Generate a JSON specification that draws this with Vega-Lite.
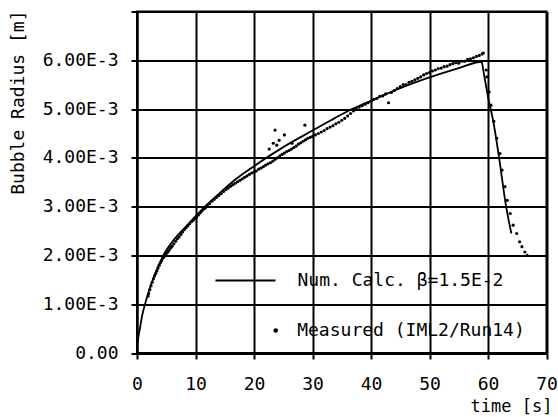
{
  "$schema": "https://vega.github.io/schema/vega-lite/v6.json",
  "width": 409.5,
  "height": 341.5,
  "autosize": {"type": "none"},
  "padding": {"left": 137, "top": 11.5, "right": 11.5, "bottom": 64},
  "background": "white",
  "config": {
    "view": {"stroke": "black", "strokeWidth": 2},
    "font": "DejaVu Sans Mono",
    "axis": {
      "labelFont": "DejaVu Sans Mono", "labelFontSize": 18, "labelColor": "black",
      "titleFont": "DejaVu Sans Mono", "titleFontSize": 18, "titleColor": "black", "titleFontWeight": "normal",
      "domainColor": "black", "domainWidth": 2, "tickColor": "black", "tickWidth": 2, "tickSize": 6,
      "gridColor": "black", "gridWidth": 2, "gridOpacity": 1
    },
    "legend": {
      "labelFont": "DejaVu Sans Mono", "labelFontSize": 18, "labelColor": "black", "labelLimit": 400,
      "padding": 0, "clipHeight": 20
    }
  },
  "datasets": {
    "calc": [
      {"t": 0, "r": 0}, {"t": 0.05, "r": 0.15e-3}, {"t": 0.2, "r": 0.3e-3}, {"t": 0.5, "r": 0.5e-3},
      {"t": 0.9, "r": 0.78e-3}, {"t": 1.37, "r": 1.0e-3}, {"t": 2.2, "r": 1.33e-3}, {"t": 3.08, "r": 1.62e-3},
      {"t": 4.5, "r": 2.0e-3}, {"t": 6.5, "r": 2.35e-3}, {"t": 8.2, "r": 2.57e-3}, {"t": 10, "r": 2.8e-3},
      {"t": 11.6, "r": 3.0e-3}, {"t": 13.9, "r": 3.25e-3}, {"t": 16.75, "r": 3.55e-3}, {"t": 20, "r": 3.83e-3},
      {"t": 25, "r": 4.22e-3}, {"t": 30, "r": 4.56e-3}, {"t": 33, "r": 4.76e-3}, {"t": 36.4, "r": 4.98e-3},
      {"t": 40, "r": 5.17e-3}, {"t": 45, "r": 5.43e-3}, {"t": 50, "r": 5.65e-3}, {"t": 55, "r": 5.84e-3},
      {"t": 58.9, "r": 5.97e-3}, {"t": 59.3, "r": 5.72e-3}, {"t": 60, "r": 5.25e-3}, {"t": 60.9, "r": 4.75e-3},
      {"t": 61.9, "r": 4.0e-3}, {"t": 63.1, "r": 3.0e-3}, {"t": 64.0, "r": 2.45e-3}
    ],
    "meas": [
      {"t": 1.9, "r": 1.17e-3}, {"t": 2.0, "r": 1.22e-3}, {"t": 2.2, "r": 1.30e-3}, {"t": 2.4, "r": 1.38e-3},
      {"t": 2.6, "r": 1.45e-3}, {"t": 2.8, "r": 1.52e-3}, {"t": 3.0, "r": 1.58e-3}, {"t": 3.2, "r": 1.63e-3},
      {"t": 3.4, "r": 1.68e-3}, {"t": 3.6, "r": 1.74e-3}, {"t": 3.8, "r": 1.80e-3}, {"t": 4.0, "r": 1.85e-3},
      {"t": 4.2, "r": 1.89e-3}, {"t": 4.4, "r": 1.94e-3}, {"t": 4.6, "r": 1.97e-3}, {"t": 4.8, "r": 2.01e-3},
      {"t": 5.0, "r": 2.04e-3}, {"t": 5.2, "r": 2.06e-3}, {"t": 5.4, "r": 2.09e-3}, {"t": 5.6, "r": 2.13e-3},
      {"t": 5.8, "r": 2.16e-3}, {"t": 6.0, "r": 2.19e-3}, {"t": 6.3, "r": 2.24e-3}, {"t": 6.6, "r": 2.29e-3},
      {"t": 6.9, "r": 2.34e-3}, {"t": 7.2, "r": 2.38e-3}, {"t": 7.5, "r": 2.43e-3}, {"t": 7.8, "r": 2.48e-3},
      {"t": 8.1, "r": 2.53e-3}, {"t": 8.4, "r": 2.57e-3}, {"t": 8.7, "r": 2.61e-3}, {"t": 9.0, "r": 2.65e-3},
      {"t": 9.3, "r": 2.69e-3}, {"t": 9.6, "r": 2.72e-3}, {"t": 9.9, "r": 2.76e-3}, {"t": 10.2, "r": 2.79e-3},
      {"t": 10.5, "r": 2.83e-3}, {"t": 10.8, "r": 2.87e-3}, {"t": 11.1, "r": 2.91e-3}, {"t": 11.4, "r": 2.95e-3},
      {"t": 11.7, "r": 2.97e-3}, {"t": 12.0, "r": 3.02e-3}, {"t": 12.4, "r": 3.06e-3}, {"t": 12.8, "r": 3.11e-3},
      {"t": 13.2, "r": 3.15e-3}, {"t": 13.6, "r": 3.19e-3}, {"t": 14.0, "r": 3.23e-3}, {"t": 14.4, "r": 3.27e-3},
      {"t": 14.8, "r": 3.31e-3}, {"t": 15.2, "r": 3.35e-3}, {"t": 15.6, "r": 3.38e-3}, {"t": 16.0, "r": 3.42e-3},
      {"t": 16.4, "r": 3.45e-3}, {"t": 16.8, "r": 3.48e-3}, {"t": 17.2, "r": 3.51e-3}, {"t": 17.6, "r": 3.54e-3},
      {"t": 18.0, "r": 3.57e-3}, {"t": 18.4, "r": 3.60e-3}, {"t": 18.8, "r": 3.63e-3}, {"t": 19.2, "r": 3.66e-3},
      {"t": 19.6, "r": 3.69e-3}, {"t": 20.0, "r": 3.71e-3}, {"t": 20.4, "r": 3.73e-3}, {"t": 20.8, "r": 3.77e-3},
      {"t": 21.2, "r": 3.79e-3}, {"t": 21.6, "r": 3.82e-3}, {"t": 22.0, "r": 3.85e-3}, {"t": 22.4, "r": 3.88e-3},
      {"t": 22.8, "r": 3.90e-3}, {"t": 23.2, "r": 3.93e-3}, {"t": 23.6, "r": 3.97e-3}, {"t": 24.0, "r": 4.00e-3},
      {"t": 24.4, "r": 4.04e-3}, {"t": 24.8, "r": 4.07e-3}, {"t": 25.2, "r": 4.10e-3}, {"t": 25.6, "r": 4.13e-3},
      {"t": 26.0, "r": 4.15e-3}, {"t": 26.4, "r": 4.18e-3}, {"t": 26.8, "r": 4.21e-3}, {"t": 27.2, "r": 4.24e-3},
      {"t": 27.6, "r": 4.28e-3}, {"t": 28.0, "r": 4.31e-3}, {"t": 28.4, "r": 4.34e-3}, {"t": 28.8, "r": 4.37e-3},
      {"t": 29.2, "r": 4.40e-3}, {"t": 29.6, "r": 4.42e-3}, {"t": 30.0, "r": 4.44e-3}, {"t": 30.5, "r": 4.47e-3},
      {"t": 31.0, "r": 4.50e-3}, {"t": 31.5, "r": 4.53e-3}, {"t": 32.0, "r": 4.56e-3}, {"t": 32.5, "r": 4.60e-3},
      {"t": 33.0, "r": 4.63e-3}, {"t": 33.5, "r": 4.66e-3}, {"t": 34.0, "r": 4.70e-3}, {"t": 34.5, "r": 4.73e-3},
      {"t": 35.0, "r": 4.77e-3}, {"t": 35.5, "r": 4.81e-3}, {"t": 36.0, "r": 4.86e-3}, {"t": 36.5, "r": 4.91e-3},
      {"t": 37.0, "r": 4.96e-3}, {"t": 37.5, "r": 5.00e-3}, {"t": 38.0, "r": 5.04e-3}, {"t": 38.5, "r": 5.07e-3},
      {"t": 39.0, "r": 5.10e-3}, {"t": 39.5, "r": 5.13e-3}, {"t": 40.0, "r": 5.16e-3}, {"t": 40.5, "r": 5.20e-3},
      {"t": 41.0, "r": 5.22e-3}, {"t": 41.5, "r": 5.26e-3}, {"t": 42.0, "r": 5.27e-3}, {"t": 42.5, "r": 5.31e-3},
      {"t": 43.0, "r": 5.13e-3}, {"t": 43.5, "r": 5.34e-3}, {"t": 44.0, "r": 5.38e-3}, {"t": 44.5, "r": 5.42e-3},
      {"t": 45.0, "r": 5.46e-3}, {"t": 45.5, "r": 5.50e-3}, {"t": 46.0, "r": 5.50e-3}, {"t": 46.5, "r": 5.55e-3},
      {"t": 47.0, "r": 5.57e-3}, {"t": 47.5, "r": 5.60e-3}, {"t": 48.0, "r": 5.63e-3}, {"t": 48.5, "r": 5.66e-3},
      {"t": 49.0, "r": 5.70e-3}, {"t": 49.5, "r": 5.73e-3}, {"t": 50.0, "r": 5.75e-3}, {"t": 50.5, "r": 5.78e-3},
      {"t": 51.0, "r": 5.80e-3}, {"t": 51.5, "r": 5.83e-3}, {"t": 52.0, "r": 5.84e-3}, {"t": 52.5, "r": 5.87e-3},
      {"t": 53.0, "r": 5.88e-3}, {"t": 53.5, "r": 5.91e-3}, {"t": 54.0, "r": 5.93e-3}, {"t": 54.5, "r": 5.95e-3},
      {"t": 55.0, "r": 5.94e-3}, {"t": 55.5, "r": 5.98e-3}, {"t": 56.0, "r": 5.98e-3}, {"t": 56.5, "r": 6.02e-3},
      {"t": 57.0, "r": 6.03e-3}, {"t": 57.5, "r": 6.05e-3}, {"t": 58.0, "r": 6.08e-3}, {"t": 58.5, "r": 6.10e-3},
      {"t": 59.0, "r": 6.13e-3}, {"t": 59.2, "r": 6.15e-3},
      {"t": 22.6, "r": 4.18e-3}, {"t": 23.3, "r": 4.30e-3}, {"t": 23.6, "r": 4.57e-3}, {"t": 24.3, "r": 4.36e-3},
      {"t": 23.9, "r": 4.26e-3}, {"t": 25.2, "r": 4.47e-3}, {"t": 28.7, "r": 4.67e-3}, {"t": 26.5, "r": 4.30e-3},
      {"t": 59.7, "r": 5.80e-3}, {"t": 59.8, "r": 5.66e-3}, {"t": 60.2, "r": 5.35e-3}, {"t": 60.5, "r": 5.08e-3},
      {"t": 61.0, "r": 4.75e-3}, {"t": 61.5, "r": 4.40e-3}, {"t": 62.05, "r": 4.09e-3}, {"t": 62.4, "r": 3.75e-3},
      {"t": 62.9, "r": 3.41e-3}, {"t": 63.3, "r": 3.13e-3}, {"t": 63.8, "r": 2.86e-3}, {"t": 64.3, "r": 2.62e-3},
      {"t": 64.9, "r": 2.45e-3}, {"t": 65.4, "r": 2.28e-3}, {"t": 65.8, "r": 2.18e-3}, {"t": 66.3, "r": 2.07e-3},
      {"t": 66.7, "r": 2.0e-3}
    ]
  },
  "encoding": {
    "x": {
      "field": "t", "type": "quantitative",
      "scale": {"domain": [0, 70], "nice": false},
      "axis": {
        "values": [0, 10, 20, 30, 40, 50, 60, 70], "grid": true, "gridValues": [10, 20, 30, 40, 50, 60],
        "labelPadding": 16, "labelFlush": false,
        "title": "time [s]", "titleAnchor": "end", "titleAlign": "right", "titleBaseline": "middle",
        "titleX": 415, "titleY": 53, "titleFontSize": 17
      }
    },
    "y": {
      "field": "r", "type": "quantitative",
      "scale": {"domain": [0, 0.007], "nice": false},
      "axis": {
        "values": [0, 0.001, 0.002, 0.003, 0.004, 0.005, 0.006, 0.007],
        "grid": true, "labelPadding": 13, "labelFlush": false,
        "labelExpr": "datum.value == 0 ? '0.00' : (datum.value > 0.0068 ? '' : format(datum.value * 1000, '.2f') + 'E-3')",
        "title": "Bubble Radius [m]", "titleAngle": -90, "titleAlign": "right", "titleBaseline": "middle",
        "titleX": -119, "titleY": -1.5
      }
    }
  },
  "layer": [
    {
      "data": {"values": [{}]},
      "mark": {"type": "rect", "fill": "white", "stroke": "black", "strokeWidth": 2},
      "encoding": {
        "x": {"datum": 10, "type": "quantitative"},
        "x2": {"datum": 70},
        "y": {"datum": 0, "type": "quantitative"},
        "y2": {"datum": 0.002}
      }
    },
    {
      "data": {"name": "calc"},
      "mark": {"type": "line", "strokeWidth": 1.8, "interpolate": "monotone"},
      "encoding": {
        "stroke": {
          "datum": "Num. Calc. β=1.5E-2",
          "scale": {"range": ["black"]},
          "legend": {
            "orient": "none", "legendX": 77.5, "legendY": 259, "title": null,
            "symbolType": "stroke", "symbolSize": 3600, "symbolStrokeWidth": 2, "labelOffset": 21
          }
        }
      }
    },
    {
      "data": {"name": "meas"},
      "mark": {"type": "point", "filled": true, "size": 10, "opacity": 1},
      "encoding": {
        "shape": {
          "datum": "Measured (IML2/Run14)",
          "scale": {"range": ["circle"]},
          "legend": {
            "orient": "none", "legendX": 129.7, "legendY": 309, "title": null,
            "symbolSize": 22, "symbolFillColor": "black", "labelOffset": 12.5
          }
        },
        "color": {"value": "black"}
      }
    }
  ]
}
